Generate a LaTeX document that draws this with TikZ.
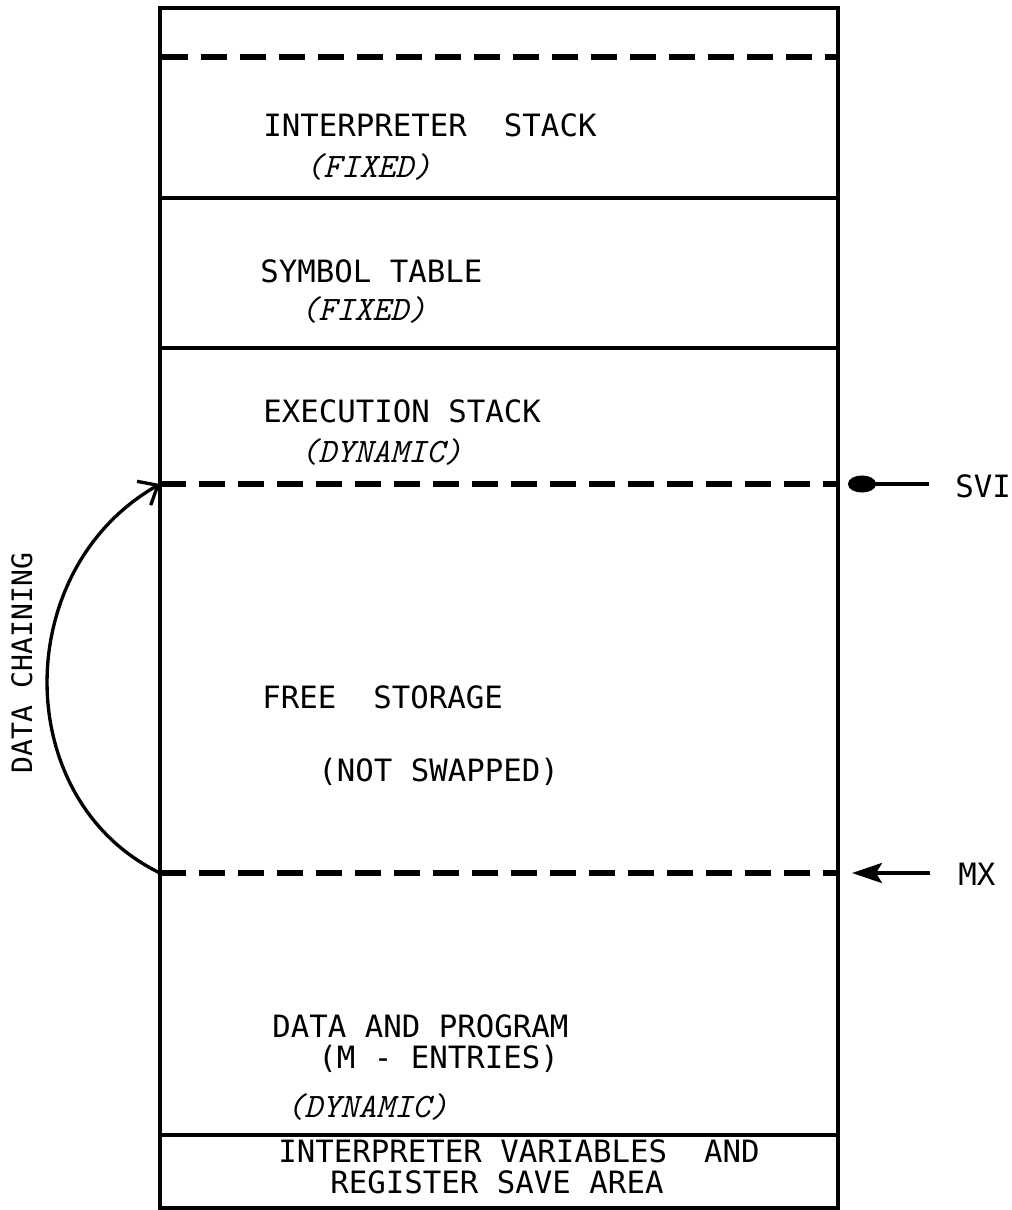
\documentclass[tikz,border=0pt]{standalone}
\usepackage{fontspec}
\newfontfamily\tw{DejaVu Sans Mono}
\usetikzlibrary{arrows.meta}
\begin{document}
\begin{tikzpicture}[x=0.02cm,y=-0.02cm,
  lbl/.style={anchor=base west, inner sep=0pt, font=\tw\fontsize{17.5}{20}\selectfont},
  ital/.style={anchor=base west, inner sep=0pt, font=\ttfamily\itshape\fontsize{19.5}{22}\selectfont},
  wall/.style={line width=2.1pt},
  split/.style={line width=2pt},
  dashsplit/.style={line width=3pt, dash pattern=on 0.52cm off 0.26cm},
  pointer/.style={line width=2pt}]
\useasboundingbox (0,0) rectangle (1011,1210);
% outer box
\draw[wall] (160,8) rectangle (838,1208);
% separators
\draw[dashsplit] (162,57) -- (836,57);
\draw[split] (160,198) -- (838,198);
\draw[split] (160,348) -- (838,348);
\coordinate (sviL) at (160,484);
\coordinate (sviR) at (838,484);
\draw[dashsplit] (sviL) -- (sviR);
\coordinate (mxL) at (160,873);
\coordinate (mxR) at (838,873);
\draw[dashsplit] (mxL) -- (mxR);
\draw[split] (160,1135) -- (838,1135);
% texts
\node[lbl] (is) at (263,136) {INTERPRETER\ \ STACK};
\node[ital] (isf) at (305,177) {(FIXED)};
\node[lbl] (st) at (260,282) {SYMBOL TABLE};
\node[ital] (stf) at (300,320) {(FIXED)};
\node[lbl] (es) at (263,422) {EXECUTION STACK};
\node[ital] (esd) at (300,462) {(DYNAMIC)};
\node[lbl] (fs) at (262,708) {FREE\ \ STORAGE};
\node[lbl] (ns) at (318,781) {(NOT SWAPPED)};
\node[lbl] (dp) at (272,1037) {DATA AND PROGRAM};
\node[lbl] (me) at (318,1068) {(M - ENTRIES)};
\node[ital] (dpd) at (286,1117) {(DYNAMIC)};
\node[lbl] (iv) at (278,1162) {INTERPRETER VARIABLES\ \ AND};
\node[lbl] (rs) at (330,1193) {REGISTER SAVE AREA};
% pointers
\node[lbl] (svi) at (955,497) {SVI};
\node[lbl] (mx) at (958,885) {MX};
\coordinate (sviT) at (848,484);
\coordinate (mxT) at (852,873);
\draw[pointer, -{Circle[length=0.56cm,width=0.34cm]}] (svi.west |- sviT) ++(-26,0) -- (sviT);
\draw[pointer, -{Stealth[length=0.6cm,width=0.4cm,inset=0.12cm]}] (mx.west |- mxT) ++(-28,0) -- (mxT);
% data chaining
\draw[line width=1.9pt, -{Straight Barb[length=0.32cm,width=0.55cm]}]
  (mxL) .. controls (10,800) and (10,570) .. (sviL);
\node[rotate=90, inner sep=0pt, font=\tw\fontsize{16}{18}\selectfont] (dc) at (22,663) {DATA CHAINING};
\end{tikzpicture}
\end{document}
